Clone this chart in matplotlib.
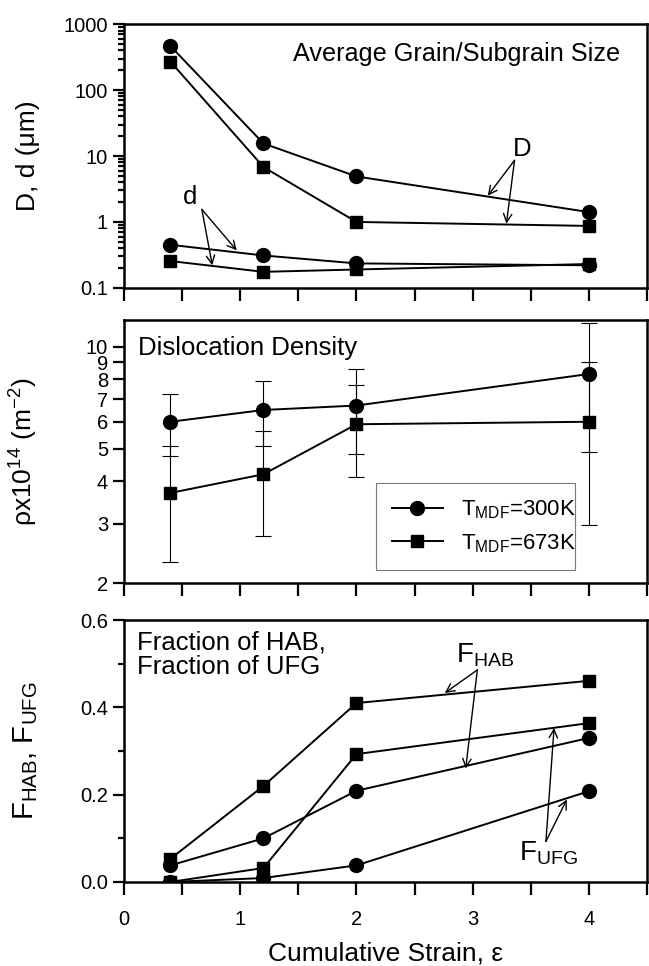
import numpy as np
import matplotlib
matplotlib.use('Agg')
import matplotlib.pyplot as plt
from matplotlib.ticker import FixedLocator, NullFormatter, LogLocator, MultipleLocator, FormatStrFormatter

plt.rcParams['font.family'] = ['Liberation Sans', 'DejaVu Sans']
plt.rcParams['mathtext.fontset'] = 'custom'
plt.rcParams['mathtext.rm'] = 'Liberation Sans'
plt.rcParams['mathtext.it'] = 'Liberation Sans:italic'
plt.rcParams['mathtext.default'] = 'regular'

# strain
strain = [0.4, 1.2, 2, 4]

# grain / subgrain size (um)
D_300 = [465, 15.5, 4.9, 1.41]
D_673 = [270, 6.8, 1.0, 0.87]
d_300 = [0.45, 0.31, 0.235, 0.22]
d_673 = [0.255, 0.175, 0.19, 0.23]

# dislocation density x1e14
rho_300 = [6.0, 6.5, 6.7, 8.3]
rho_300_err = [1.25, 1.4, 1.87, 3.4]
rho_673 = [3.7, 4.2, 5.9, 6.0]
rho_673_err = [1.38, 1.44, 1.79, 3.03]

# fractions
hab_673 = [0.053, 0.22, 0.41, 0.461]
hab_300 = [0.038, 0.10, 0.209, 0.33]
ufg_673 = [0.0, 0.032, 0.293, 0.364]
ufg_300 = [0.0, 0.009, 0.038, 0.208]

fs = 14.5   # tick labels
tfs = 18.5  # texts in panels
lfs = 19    # axis labels
fig = plt.figure(figsize=(6.49, 9.66), dpi=100)
L, W = 0.191, 0.806
ax1 = fig.add_axes([L, 0.702, W, 0.273])
ax2 = fig.add_axes([L, 0.396, W, 0.273])
ax3 = fig.add_axes([L, 0.087, W, 0.271])

circ = dict(color='k', marker='o', ms=10, lw=1.4)
sq = dict(color='k', marker='s', ms=8.5, lw=1.4)

for ax in (ax1, ax2, ax3):
    ax.set_xlim(0, 4.5)
    ax.xaxis.set_major_locator(MultipleLocator(1))
    ax.xaxis.set_minor_locator(MultipleLocator(0.5))
    for s in ax.spines.values():
        s.set_linewidth(1.8)
    ax.tick_params(which='both', direction='out', width=1.6, labelsize=fs,
                   top=False, right=False)
    ax.tick_params(axis='x', which='both', length=9)
    ax.tick_params(axis='y', which='major', length=8)
    ax.tick_params(axis='y', which='minor', length=4)

# --- top panel
ax1.set_yscale('log')
ax1.set_ylim(0.1, 1000)
ax1.plot(strain, D_300, **circ)
ax1.plot(strain, D_673, **sq)
ax1.plot(strain, d_300, **circ)
ax1.plot(strain, d_673, **sq)
ax1.yaxis.set_major_locator(FixedLocator([0.1, 1, 10, 100, 1000]))
ax1.set_yticklabels(['0.1', '1', '10', '100', '1000'])
ax1.yaxis.set_minor_locator(LogLocator(base=10, subs=np.arange(2, 10)))
ax1.yaxis.set_minor_formatter(NullFormatter())
ax1.tick_params(axis='x', labelbottom=False)
ax1.set_ylabel('D, d (\u03bcm)', fontsize=lfs)
ax1.text(4.27, 355, 'Average Grain/Subgrain Size', ha='right', va='center', fontsize=tfs - 0.3)

arw = dict(arrowstyle='->', lw=1.0, color='k', shrinkA=0, shrinkB=0,
           mutation_scale=15)
ax1.text(3.43, 12.9, 'D', ha='center', va='center', fontsize=tfs)
ax1.annotate('', xy=(3.13, 2.5), xytext=(3.36, 8.6), arrowprops=arw)
ax1.annotate('', xy=(3.29, 0.94), xytext=(3.36, 8.6), arrowprops=arw)
ax1.text(0.57, 2.4, 'd', ha='center', va='center', fontsize=tfs)
ax1.annotate('', xy=(0.97, 0.37), xytext=(0.67, 1.55), arrowprops=arw)
ax1.annotate('', xy=(0.76, 0.22), xytext=(0.67, 1.55), arrowprops=arw)

# --- middle panel
ax2.set_yscale('log')
ax2.set_ylim(2, 12)
eb = dict(elinewidth=0.8, capsize=6, capthick=0.8)
ax2.errorbar(strain, rho_300, yerr=rho_300_err, label='T$_{MDF}$=300K', **circ, **eb)
ax2.errorbar(strain, rho_673, yerr=rho_673_err, label='T$_{MDF}$=673K', **sq, **eb)
ax2.yaxis.set_major_locator(FixedLocator([2, 3, 4, 5, 6, 7, 8, 9, 10]))
ax2.set_yticklabels(['2', '3', '4', '5', '6', '7', '8', '9', '10'])
ax2.yaxis.set_minor_locator(FixedLocator([]))
ax2.tick_params(axis='x', labelbottom=False)
ax2.set_ylabel(r'$\rho$x10$^{14}$ (m$^{-2}$)', fontsize=lfs)
ax2.text(0.12, 9.9, 'Dislocation Density', ha='left', va='center', fontsize=tfs)
h, l = ax2.get_legend_handles_labels()
h = [x[0] for x in h]
leg = ax2.legend(h, l, loc='lower left', bbox_to_anchor=(0.482, 0.05, 0.38, 0.367),
                 mode='expand', fontsize=fs + 1.5, frameon=True, fancybox=False,
                 edgecolor='#555555', borderpad=0.7, handlelength=2.3,
                 labelspacing=0.5, borderaxespad=0)
leg.get_frame().set_linewidth(0.8)

# --- bottom panel
ax3.set_ylim(0, 0.6)
ax3.plot(strain, hab_673, **sq)
ax3.plot(strain, hab_300, **circ)
ax3.plot(strain, ufg_673, **sq)
ax3.plot(strain, ufg_300, **circ)
ax3.yaxis.set_major_locator(MultipleLocator(0.2))
ax3.yaxis.set_minor_locator(MultipleLocator(0.1))
ax3.yaxis.set_major_formatter(FormatStrFormatter('%.1f'))
ax3.tick_params(axis='x', which='major', pad=11)
ax3.set_ylabel('F$_{HAB}$, F$_{UFG}$', fontsize=lfs + 2)
ax3.set_xlabel('Cumulative Strain, \u03b5', fontsize=lfs, labelpad=9)
ax3.text(0.11, 0.577, 'Fraction of HAB,\nFraction of UFG', ha='left', va='top',
         fontsize=tfs, linespacing=1.05)
ax3.text(3.11, 0.52, 'F$_{HAB}$', ha='center', va='center', fontsize=tfs + 1.5)
ax3.annotate('', xy=(2.76, 0.433), xytext=(3.04, 0.486), arrowprops=arw)
ax3.annotate('', xy=(2.94, 0.26), xytext=(3.04, 0.486), arrowprops=arw)
ax3.text(3.65, 0.066, 'F$_{UFG}$', ha='center', va='center', fontsize=tfs + 1.5)
ax3.annotate('', xy=(3.70, 0.353), xytext=(3.63, 0.093), arrowprops=arw)
ax3.annotate('', xy=(3.81, 0.189), xytext=(3.63, 0.093), arrowprops=arw)

# y labels centred about 24 px from the left edge
for ax in (ax1, ax2, ax3):
    ax.yaxis.set_label_coords(-0.16, 0.5)

fig.savefig('out.png', dpi=100)
